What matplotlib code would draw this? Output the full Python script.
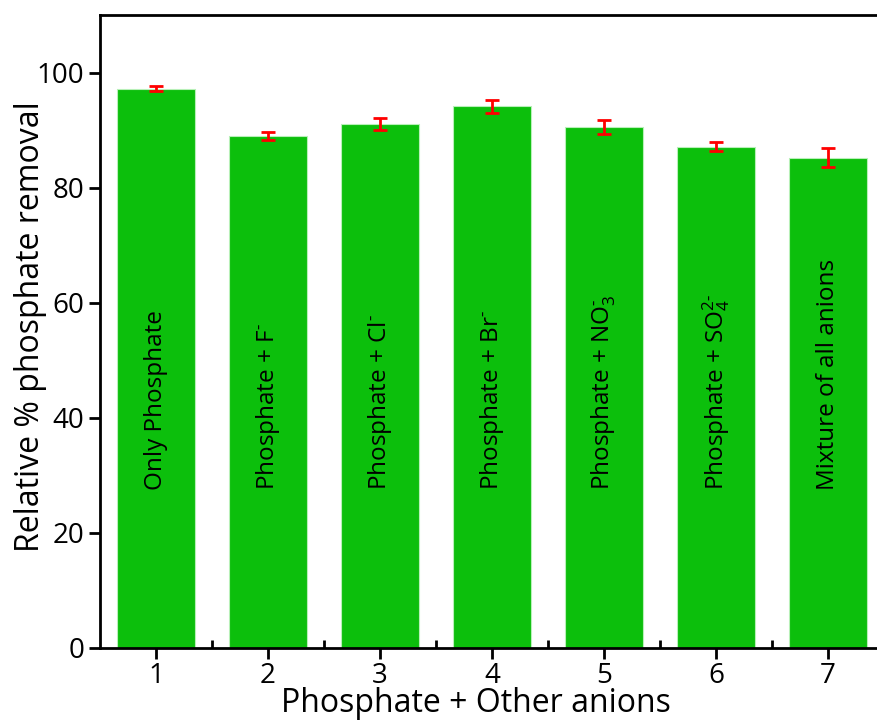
import numpy as np
import matplotlib.pyplot as plt

plt.rcParams['font.family'] = ['Open Sans', 'DejaVu Sans']
plt.rcParams['mathtext.fontset'] = 'custom'
plt.rcParams['mathtext.rm'] = 'Open Sans'
plt.rcParams['mathtext.it'] = 'Open Sans'

# Data
positions = [1, 2, 3, 4, 5, 6, 7]
removal = [97.2, 89.0, 91.1, 94.1, 90.5, 87.1, 85.2]
errors = [0.4, 0.7, 1.0, 1.1, 1.25, 0.75, 1.65]
labels = ['Only Phosphate',
          r'Phosphate + F$^{\text{-}}$',
          r'Phosphate + Cl$^{\text{-}}$',
          r'Phosphate + Br$^{\text{-}}$',
          r'Phosphate + NO$_{3}^{\text{-}}$',
          r'Phosphate + SO$_{4}^{\text{2-}}$',
          'Mixture of all anions']

fig = plt.figure(figsize=(8.78, 7.22), dpi=100)
ax = fig.add_axes([100/878, 74/722, 784/878, 633/722])

ax.bar(positions, removal, width=0.7, color='#0cbf0c',
       edgecolor='#b8f0b8', linewidth=0.8, zorder=2)
ax.errorbar(positions, removal, yerr=errors, fmt='none', ecolor='red',
            elinewidth=2, capsize=5, capthick=2, zorder=3)

for x, lab in zip(positions, labels):
    ax.text(x, 27.5, lab, rotation=90, ha='center', va='bottom',
            fontsize=17.5, zorder=4)

ax.set_xlim(0.5, 7.5)
ax.set_ylim(0, 110)
ax.set_xticks(positions)
ax.set_xticks([1.5, 2.5, 3.5, 4.5, 5.5, 6.5], minor=True)
ax.set_yticks([0, 20, 40, 60, 80, 100])

for s in ax.spines.values():
    s.set_linewidth(2)
ax.tick_params(axis='both', which='major', direction='out', length=8,
               width=2, labelsize=20)
ax.tick_params(axis='x', which='minor', direction='in', length=6, width=2)
ax.tick_params(axis='x', which='major', pad=2)

ax.set_xlabel('Phosphate + Other anions', fontsize=23)
ax.xaxis.set_label_coords(0.48, -0.062)
ax.set_ylabel('Relative % phosphate removal', fontsize=23)
ax.yaxis.set_label_coords(-0.068, 0.507)

fig.savefig('out.png', dpi=100)
